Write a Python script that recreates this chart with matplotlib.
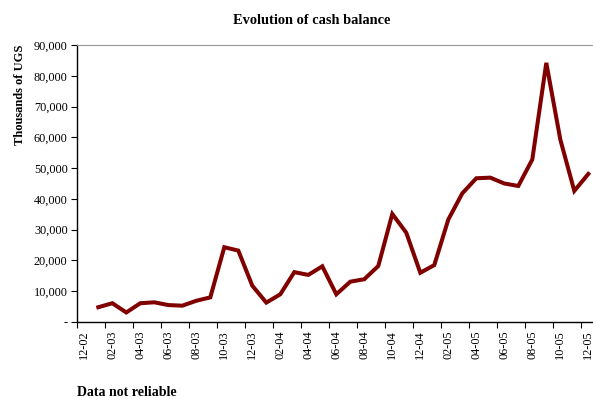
import matplotlib
matplotlib.use("Agg")
import matplotlib.pyplot as plt
from matplotlib.ticker import FuncFormatter
import numpy as np

# ── data ──────────────────────────────────────────────────────────────────────
months = [f"{m:02d}-{y:02d}" for y, ms in ((2, [12]), (3, range(1, 13)),
                                          (4, range(1, 13)), (5, range(1, 13)))
          for m in ms]
# monthly cash balance (thousands of UGS), 01-03 .. 12-05
cash = [4800, 6100, 3100, 6100, 6400, 5500, 5300, 6900, 8000, 24300,
        23200, 11800, 6300, 9000, 16200, 15300, 18100, 9000, 13100, 13900,
        18200, 35100, 29000, 16000, 18500, 33300, 41800, 46700, 46900, 45000,
        44200, 52800, 84200, 59300, 42600, 48100]
yticks = list(range(0, 90001, 10000))

plt.rcParams["font.family"] = ["Liberation Serif", "DejaVu Serif"]

W, H = 593, 398
fig = plt.figure(figsize=(W / 100, H / 100), dpi=100)
ax = fig.add_axes([77.3 / W, 76 / H, (595.3 - 77.3) / W, (322 - 45) / H])

n_cat = len(months)
x = np.arange(n_cat - len(cash), n_cat) + 0.5
ax.plot(x, cash, color="#800000", lw=2.9, solid_joinstyle="miter")

ax.set_xlim(0, n_cat)
ax.set_ylim(0, 90000)

# x axis: tick marks on category boundaries, labels centred in the category
ax.set_xticks(np.arange(0, n_cat, 2))
ax.set_xticklabels([])
ax.set_xticks(np.arange(0, n_cat, 2) + 0.5, minor=True)
ax.set_xticklabels(months[::2], minor=True, rotation=90, fontsize=8.8)
ax.tick_params(axis="x", which="major", direction="out", length=4, width=0.8)
ax.tick_params(axis="x", which="minor", length=0, pad=6)

ax.set_yticks(yticks)
ax.yaxis.set_major_formatter(FuncFormatter(lambda v, _: "-" if v == 0 else f"{int(v):,}"))
ax.tick_params(axis="y", direction="out", length=4, width=0.8, labelsize=8.8, pad=3)

for s in ("left", "bottom"):
    ax.spines[s].set_linewidth(1.0)
ax.spines["top"].set_color("#999999")
ax.spines["right"].set_visible(False)

fig.text(312 / W, 1 - 20 / H, "Evolution of cash balance", ha="center", va="center",
         fontsize=10.4, fontweight="bold")
fig.text(20 / W, 1 - 95 / H, "Thousands of UGS", rotation=90, ha="center",
         va="center", fontsize=9, fontweight="bold")
fig.text(77 / W, 1 - 393 / H, "Data not reliable", ha="left", va="center",
         fontsize=10, fontweight="bold")

fig.savefig("out.png", dpi=100)
